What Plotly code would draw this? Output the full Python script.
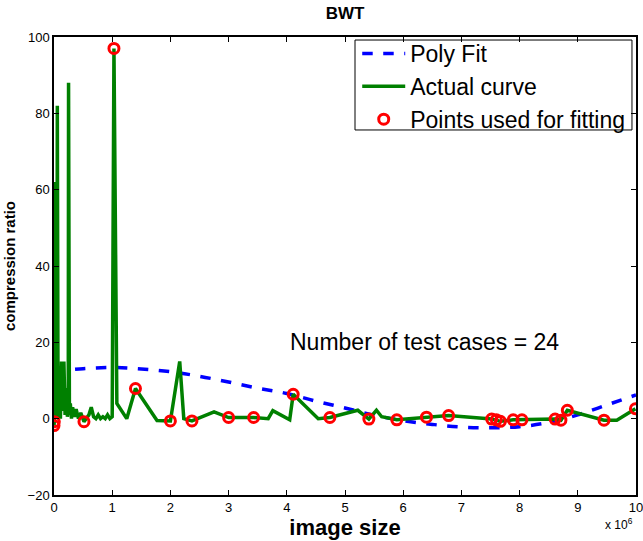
import plotly.graph_objects as go

# image size (x 10^6) and compression ratio
actual_x = [0.00, 0.005, 0.01, 0.015, 0.02, 0.03, 0.04, 0.05, 0.057, 0.07, 0.09, 0.11, 0.13,
            0.15, 0.17, 0.19, 0.21, 0.23, 0.245, 0.25, 0.265, 0.28, 0.30, 0.32, 0.35, 0.38,
            0.42, 0.46, 0.515, 0.56, 0.60, 0.64, 0.68, 0.72, 0.76, 0.80, 0.84, 0.88, 0.92,
            0.96, 1.00, 1.03, 1.08, 1.25, 1.40, 1.77, 2.00, 2.16, 2.23, 2.37, 2.75, 3.00,
            3.43, 3.68, 3.76, 4.05, 4.11, 4.54, 4.74, 5.22, 5.41, 5.54, 5.63, 5.89, 6.40,
            6.78, 7.52, 7.60, 7.67, 7.89, 8.04, 8.61, 8.71, 8.82, 9.45, 9.67, 9.99]
actual_y = [-1.8, -0.8, 62.0, 3.0, 10.0, 1.0, 6.0, 0.0, 82.0, 2.0, 5.0, 0.0, 15.0,
            2.0, 15.0, 1.0, 8.0, 0.5, 3.0, 88.0, 1.0, 4.0, 0.0, 3.0, 0.5, 2.5,
            0.0, 1.5, -0.8, 0.0, 1.0, 3.0, 0.5, 0.0, 1.0, 0.0, 0.5, 0.0, 1.0,
            0.0, 0.5, 97.0, 4.0, 0.0, 7.9, -0.5, -0.6, 15.0, 0.0, -0.6, 1.8, 0.3,
            0.3, 0.0, 2.1, -0.3, 6.4, 0.0, 0.3, 2.2, -0.1, 2.2, 0.5, -0.3, 0.4,
            0.8, -0.1, -0.3, -0.7, -0.3, -0.3, -0.1, -0.4, 2.2, -0.4, -0.4, 2.6]

fit_x = [0.00, 0.005, 0.515, 1.03, 1.40, 2.00, 2.37, 3.00, 3.43, 4.11, 4.74, 5.41, 5.89,
         6.40, 6.78, 7.52, 7.60, 7.67, 7.89, 8.04, 8.61, 8.71, 8.82, 9.45, 9.99]
fit_y = [-1.8, -0.8, -0.8, 97.0, 7.9, -0.6, -0.6, 0.3, 0.3, 6.4, 0.3, -0.1, -0.3,
         0.4, 0.8, -0.1, -0.3, -0.7, -0.3, -0.3, -0.1, -0.4, 2.2, -0.4, 2.6]

poly_x = [0, 0.5, 1, 1.5, 2, 2.5, 3, 3.5, 4, 4.5, 5, 5.5, 6, 6.5, 7, 7.5, 8, 8.5, 9, 9.5, 10]
poly_y = [12.4, 13.1, 13.4, 13.0, 12.3, 11.1, 9.6, 8.0, 6.6, 4.6, 2.8, 0.9, -0.5, -1.5,
          -2.2, -2.4, -2.1, -1.0, 1.0, 3.6, 6.2]

x_ticks = list(range(0, 11))
y_ticks = [-20, 0, 20, 40, 60, 80, 100]

FONT = "Liberation Sans, Arial, Helvetica, sans-serif"

fig = go.Figure()
fig.add_trace(go.Scatter(x=poly_x, y=poly_y, mode="lines", name="Poly Fit",
                         line=dict(color="#0000ff", width=3.5, dash="dash", shape="spline"),
                         legendgroup="a"))
fig.add_trace(go.Scatter(x=actual_x, y=actual_y, mode="lines", name="Actual curve",
                         line=dict(color="#008000", width=3.5), legendgroup="b"))
fig.add_trace(go.Scatter(x=fit_x, y=fit_y, mode="markers", name="Points used for fitting",
                         marker=dict(symbol="circle-open", size=10, color="#ff0000",
                                     line=dict(width=3, color="#ff0000")),
                         legendgroup="c"))

axis_common = dict(showgrid=False, zeroline=False, showline=True, linecolor="black",
                   linewidth=1.5, mirror="ticks", ticks="inside", ticklen=5,
                   tickcolor="black", automargin=False, ticklabeloverflow="allow",
                   tickfont=dict(size=13, color="black", family=FONT))

fig.update_xaxes(range=[0, 10], tickvals=x_ticks, ticktext=[str(t) for t in x_ticks],
                 title=dict(text="<b>image size</b>", font=dict(size=22, color="black", family=FONT),
                            standoff=4),
                 **axis_common)
fig.update_yaxes(range=[-20, 100], tickvals=y_ticks,
                 title=dict(text="<b>compression ratio</b>", font=dict(size=15, color="black", family=FONT),
                            standoff=8),
                 **axis_common)

fig.add_annotation(x=6.37, y=20, xref="x", yref="y", text="Number of test cases = 24",
                   showarrow=False, font=dict(size=23, color="black", family=FONT))
fig.add_annotation(x=1.0, y=0, xref="paper", yref="paper", yshift=-29, xshift=-1,
                   text="x 10<sup>6</sup>", showarrow=False, xanchor="right", yanchor="middle",
                   font=dict(size=12, color="black", family=FONT))

# legend frame
fig.add_shape(type="rect", xref="paper", yref="paper", x0=0.5172, x1=0.9931, y0=0.797, y1=0.9934,
              line=dict(color="black", width=1), fillcolor="rgba(0,0,0,0)", layer="above")

fig.update_layout(
    width=643, height=541,
    margin=dict(l=54, r=7, t=37, b=46),
    paper_bgcolor="white", plot_bgcolor="white",
    title=dict(text="<b>BWT</b>", x=(345) / 643, xanchor="center", y=1 - 13 / 541,
               yanchor="middle", font=dict(size=17, color="black", family=FONT)),
    legend=dict(x=0.521, y=1.011, xanchor="left", yanchor="top",
                borderwidth=0, bgcolor="rgba(0,0,0,0)", itemwidth=43,
                font=dict(size=23, color="black", family=FONT), tracegroupgap=0),
    showlegend=True,
)

fig.write_html("out.html")
